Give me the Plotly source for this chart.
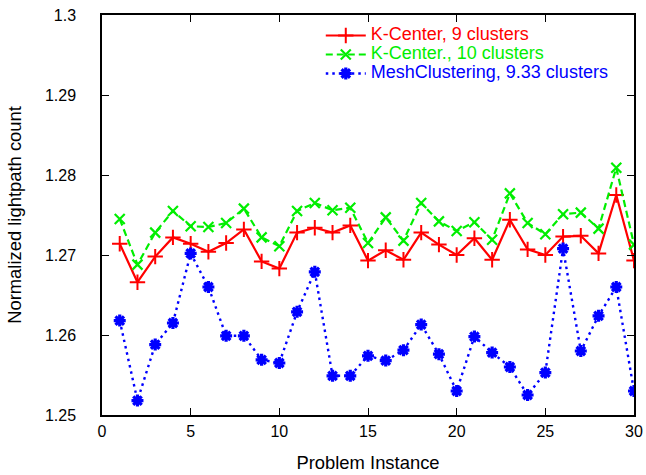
import plotly.graph_objects as go

instances = list(range(1, 31))

kcenter_9 = [1.2714, 1.2666, 1.2698, 1.2722, 1.2714, 1.2704, 1.2715, 1.2732, 1.2692, 1.2683,
             1.2728, 1.2734, 1.2728, 1.2737, 1.2693, 1.2706, 1.2694, 1.2728, 1.2713, 1.2700,
             1.2721, 1.2694, 1.2744, 1.2707, 1.2700, 1.2723, 1.2724, 1.2702, 1.2775, 1.2693]

kcenter_10 = [1.2745, 1.2688, 1.2728, 1.2755, 1.2736, 1.2735, 1.2740, 1.2758, 1.2722, 1.2711,
              1.2755, 1.2765, 1.2756, 1.2759, 1.2715, 1.2747, 1.2718, 1.2765, 1.2742, 1.2730,
              1.2741, 1.2719, 1.2777, 1.2740, 1.2726, 1.2751, 1.2753, 1.2733, 1.2809, 1.2713]

mesh_933 = [1.2618, 1.2518, 1.2588, 1.2615, 1.2702, 1.2660, 1.2599, 1.2599, 1.2569, 1.2565,
            1.2629, 1.2679, 1.2549, 1.2549, 1.2574, 1.2568, 1.2581, 1.2613, 1.2576, 1.2530,
            1.2598, 1.2578, 1.2560, 1.2525, 1.2553, 1.2708, 1.2580, 1.2624, 1.2660, 1.2530]

series_names = ["K-Center, 9 clusters", "K-Center., 10 clusters", "MeshClustering, 9.33 clusters"]
x_ticks = [0, 5, 10, 15, 20, 25, 30]
y_ticks = [1.25, 1.26, 1.27, 1.28, 1.29, 1.3]
y_tick_labels = ["1.25", "1.26", "1.27", "1.28", "1.29", "1.3"]

FONT = "Liberation Sans, Arial, Helvetica, sans-serif"
RED, GREEN, BLUE = "#ff0000", "#00ee00", "#0000ff"


def legend_label(text, color):
    return "<span style='color:%s;font-size:18px'>%s</span>" % (color, text)


fig = go.Figure()
fig.add_trace(go.Scatter(
    x=instances, y=kcenter_9, mode="lines+markers",
    name=legend_label(series_names[0], RED),
    line=dict(color=RED, width=2.2, dash="solid"),
    marker=dict(symbol="cross-thin", size=11, color=RED, line=dict(color=RED, width=2))))
fig.add_trace(go.Scatter(
    x=instances, y=kcenter_10, mode="lines+markers",
    name=legend_label(series_names[1], GREEN),
    line=dict(color=GREEN, width=2.2, dash="7px,4px"),
    marker=dict(symbol="x-thin", size=10, color=GREEN, line=dict(color=GREEN, width=2.2))))
fig.add_trace(go.Scatter(
    x=instances, y=mesh_933, mode="lines+markers",
    name=legend_label(series_names[2], BLUE),
    line=dict(color=BLUE, width=2.4, dash="2.5px,4px"),
    marker=dict(symbol="asterisk", size=10, color=BLUE, line=dict(color=BLUE, width=3.2))))

axis_common = dict(
    showgrid=False, zeroline=False, showline=True, linecolor="black", linewidth=1.5,
    mirror="ticks", ticks="inside", ticklen=7, tickwidth=1.2, tickcolor="black",
    tickfont=dict(family=FONT, size=16, color="black"), automargin=False,
)

fig.update_xaxes(range=[0, 30], tickvals=x_ticks, ticktext=[str(v) for v in x_ticks],
                 title=dict(text="Problem Instance", font=dict(family=FONT, size=18.4, color="black"), standoff=17),
                 ticklabelstandoff=1, **axis_common)
fig.update_yaxes(range=[1.25, 1.3], tickvals=y_ticks, ticktext=y_tick_labels,
                 title=dict(text="Normalized lightpath count", font=dict(family=FONT, size=18.4, color="black"), standoff=18),
                 ticklabelstandoff=21, **axis_common)

fig.update_layout(
    width=646, height=475,
    margin=dict(l=102, r=12, t=15, b=60),
    paper_bgcolor="white", plot_bgcolor="white",
    font=dict(family=FONT, size=16, color="black"),
    showlegend=True,
    legend=dict(x=0.962, y=0.985, xanchor="right", yanchor="top",
                bgcolor="rgba(0,0,0,0)", borderwidth=0,
                font=dict(family=FONT, size=11), tracegroupgap=0,
                itemwidth=40),
)

# remove the browser's default page margin so the 646x475 figure fills the window exactly
fig.write_html("out.html", config={"displayModeBar": False},
               post_script="document.body.style.margin='0';document.body.style.overflow='hidden';")
